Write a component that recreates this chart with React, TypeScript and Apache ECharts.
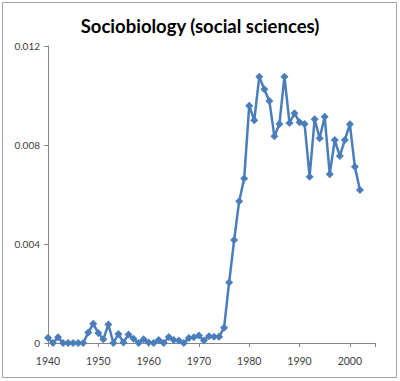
import React, { useEffect, useRef } from "react";
import * as echarts from "echarts";

const TITLE = "Sociobiology (social sciences)";

const years: number[] = [
  1940, 1941, 1942, 1943, 1944, 1945, 1946, 1947, 1948, 1949,
  1950, 1951, 1952, 1953, 1954, 1955, 1956, 1957, 1958, 1959,
  1960, 1961, 1962, 1963, 1964, 1965, 1966, 1967, 1968, 1969,
  1970, 1971, 1972, 1973, 1974, 1975, 1976, 1977, 1978, 1979,
  1980, 1981, 1982, 1983, 1984, 1985, 1986, 1987, 1988, 1989,
  1990, 1991, 1992, 1993, 1994, 1995, 1996, 1997, 1998, 1999,
  2000, 2001, 2002,
];

const values: number[] = [
  0.00021, 0, 0.00023, 0, 0, 0, 0, 0, 0.00042, 0.00078,
  0.0004, 0.00015, 0.00075, 0, 0.00036, 0.00002, 0.00034, 0.00017, 0, 0.00015,
  0.00002, 0, 0.00012, 0, 0.00024, 0.00012, 0.0001, 0, 0.0002, 0.00023,
  0.0003, 0.0001, 0.00027, 0.00025, 0.00025, 0.00062, 0.00244, 0.00416, 0.00573, 0.00665,
  0.00959, 0.009, 0.01076, 0.01025, 0.00978, 0.00835, 0.00885, 0.01076, 0.00889, 0.00928,
  0.00892, 0.00885, 0.00672, 0.00904, 0.00827, 0.00914, 0.00682, 0.0082, 0.00756, 0.0082,
  0.00884, 0.00712, 0.00618,
];

const xTickLabels: number[] = [1940, 1950, 1960, 1970, 1980, 1990, 2000];
const yTickLabels: string[] = ["0", "0.004", "0.008", "0.012"];

export default function App() {
  const ref = useRef<HTMLDivElement>(null);
  useEffect(() => {
    document.body.style.margin = "0";
    if (!ref.current) return;
    const chart = echarts.init(ref.current, undefined, { renderer: "svg" });
    const labelColor = "#404040";
    const font = "Lato, 'Noto Sans', sans-serif";
    chart.setOption({
      animation: false,
      backgroundColor: "#ffffff",
      title: {
        text: TITLE,
        left: "center",
        top: 11,
        textStyle: { fontFamily: font, fontWeight: "bold", fontSize: 18.5, color: "#000000" },
      },
      graphic: [
        {
          type: "rect",
          shape: { x: 2.5, y: 2.5, width: 394, height: 375 },
          style: { fill: "none", stroke: "#a6a6a6", lineWidth: 1 },
          silent: true,
        },
      ],
      grid: { left: 48, right: 25, top: 46, bottom: 38, containLabel: false },
      xAxis: {
        type: "value",
        min: 1940,
        max: 2005,
        interval: 10,
        splitLine: { show: false },
        axisLine: { onZero: false, lineStyle: { color: "#868686", width: 1 } },
        axisTick: { show: true, length: 4, lineStyle: { color: "#868686" } },
        axisLabel: {
          color: labelColor,
          fontFamily: font,
          fontSize: 10.5,
          margin: 12,
          formatter: (v: number) => (xTickLabels.includes(v) ? String(v) : ""),
        },
      },
      yAxis: {
        type: "value",
        min: 0,
        max: 0.012,
        interval: 0.004,
        splitLine: { show: false },
        axisLine: { show: true, lineStyle: { color: "#868686", width: 1 } },
        axisTick: { show: true, length: 4, lineStyle: { color: "#868686" } },
        axisLabel: {
          color: labelColor,
          fontFamily: font,
          fontSize: 10,
          margin: 8,
          formatter: (v: number) => yTickLabels[Math.round(v / 0.004)] ?? "",
        },
      },
      series: [
        {
          type: "line",
          data: years.map((y, i) => [y, values[i]]),
          symbol: "diamond",
          symbolSize: 8,
          lineStyle: { color: "#4a7ebb", width: 2.5 },
          itemStyle: { color: "#4a7ebb" },
          clip: false,
        },
      ],
    });
    return () => chart.dispose();
  }, []);
  return <div ref={ref} style={{ width: 400, height: 381 }} />;
}
